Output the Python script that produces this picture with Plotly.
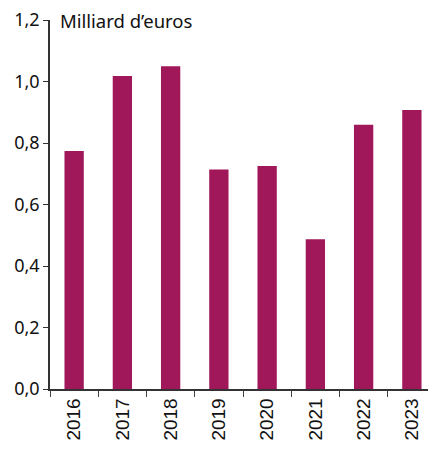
import plotly.graph_objects as go

# Data
years = ['2016', '2017', '2018', '2019', '2020', '2021', '2022', '2023']
values = [0.774, 1.018, 1.050, 0.714, 0.725, 0.487, 0.859, 0.907]
y_ticks = [0.0, 0.2, 0.4, 0.6, 0.8, 1.0, 1.2]
unit_label = 'Milliard d’euros'

bar_color = '#A0175A'

fig = go.Figure(
	go.Bar(
		x=years,
		y=values,
		marker={'color': bar_color, 'line': {'width': 0}},
	)
)

fig.update_xaxes(
	type='category',
	tickangle=-90,
	ticks='outside',
	tickson='boundaries',
	ticklen=6,
	tickcolor='#444',
	showline=True,
	linecolor='#333',
	linewidth=1.5,
	automargin=False,
	tickfont={'family': 'Liberation Sans', 'size': 19, 'color': '#111'},
)

fig.update_yaxes(
	range=[0, 1.2],
	tickvals=y_ticks,
	tickformat='.1f',
	ticks='outside',
	ticklen=5,
	tickcolor='#333',
	showline=True,
	linecolor='#333',
	linewidth=1.5,
	showgrid=False,
	zeroline=False,
	automargin=False,
	ticklabeloverflow='allow',
	tickfont={'family': 'Noto Sans', 'size': 18, 'color': '#111'},
)

fig.add_annotation(
	text=unit_label,
	xref='paper', yref='paper',
	x=0.02, y=1.0,
	xanchor='left', yanchor='middle',
	showarrow=False,
	font={'family': 'Noto Sans', 'size': 18.5, 'color': '#111'},
)

# page body adds an 8px offset, so the figure is a bit smaller
fig.update_layout(
	width=428,
	height=447,
	bargap=0.6,
	separators=', ',
	showlegend=False,
	plot_bgcolor='white',
	paper_bgcolor='white',
	margin={'l': 42, 'r': 0, 't': 12, 'b': 66},
)

fig.write_html('out.html')
